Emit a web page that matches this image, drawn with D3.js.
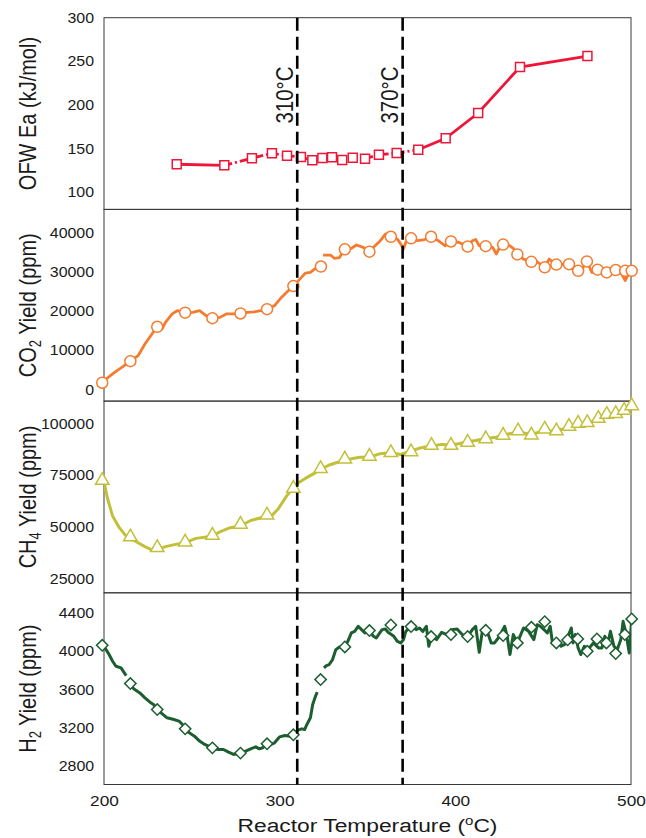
<!DOCTYPE html>
<html>
<head>
<meta charset="utf-8">
<script src="https://cdn.jsdelivr.net/npm/d3@7"></script>
<style>
  html, body { margin: 0; padding: 0; background: #fff; }
  svg { display: block; font-family: "Liberation Sans", Arial, sans-serif; }
</style>
</head>
<body>
<svg id="chart" width="646" height="838"></svg>
<script>
// ---------------- DATA ----------------
const xTicks = [200, 300, 400, 500];
const transitionTemps = [310, 370];
const transitionLabels = ["310\u00B0C", "370\u00B0C"];

// OFW activation energy (kJ/mol)
const ofwT  = [241.4, 268.5, 284.2, 295.6, 304.2, 312.1, 318.6, 324.3, 329.8, 335.6, 341.6, 348.6, 356.5, 366.6, 378.9, 394.5, 413.0, 436.8, 475.2];
const ofwEa = [131.8, 130.6, 138.7, 144.4, 141.6, 140.1, 136.4, 139.0, 139.8, 136.7, 139.3, 138.2, 142.8, 144.7, 148.5, 161.6, 190.6, 243.4, 256.0];
const ofwTicks = [100, 150, 200, 250, 300];

// CO2 yield (ppm) – continuous trace (null = gap) and markers
const co2LineT = [200.0, 205.8, 215.0, 219.4, 223.3, 227.2, 230.3, 233.0, 235.0, 238.8, 241.7, 246.2, 250.5, 254.4, 258.3, 261.7, 266.0, 269.9, 273.8, 277.7, 281.6, 285.4, 289.3, 292.8, 297.1, 301.0, 304.9, 307.8, 310.7, 314.6, 317.5, 320.4, 323.5, 324.1,
  324.7, 329.1, 331.1, 334.0, 337.1, 340.8, 343.7, 347.6, 351.1, 353.4, 357.3, 360.2, 363.3, 367.0, 368.9, 370.5, 371.8, 374.8, 378.6, 382.5, 386.2, 390.3, 394.2, 397.5, 401.9, 407.0, 409.7, 411.6, 413.6, 417.3, 421.3, 423.3, 425.2, 427.2, 431.1, 433.0, 435.3, 438.8, 443.3, 446.6, 450.9, 453.4, 457.5, 461.2, 464.7, 467.0, 469.9, 472.8, 475.0, 477.7, 481.0, 483.5, 486.2, 489.3, 491.3, 494.2, 496.7, 498.1, 500.4];
const co2LineV = [2200, 4300, 7150, 8600, 11600, 14100, 16000, 15400, 17100, 19300, 20100, 19600, 19700, 20100, 18800, 18200, 18400, 19300, 19300, 19400, 19700, 19800, 20100, 20500, 21400, 23500, 25200, 26400, 27800, 29700, 29900, 30900, 31400, null,
  34300, 34300, 33500, 33700, 35800, 36050, 36900, 36300, 35200, 36300, 38000, 39700, 39000, 38400, 37200, 35900, 37600, 38600, 38000, 38300, 39000, 38000, 36700, 37800, 37600, 36500, 38000, 38300, 36700, 36600, 36300, 34600, 36300, 37000, 36700, 36050, 34500, 33300, 32600, 32600, 31200, 33300, 31900, 32000, 32000, 30600, 30300, 31200, 32700, 29900, 30600, 30100, 29900, 29900, 30500, 29900, 27800, 29100, 30300];
const co2MarkT = [199.0, 215.0, 230.3, 246.2, 261.7, 277.7, 292.8, 307.8, 323.5, 337.1, 351.1, 363.3, 374.8, 386.2, 397.5, 407.0, 417.3, 427.2, 435.3, 443.3, 450.9, 457.5, 464.7, 469.9, 474.9, 481.0, 486.2, 491.3, 496.7, 500.4];
const co2MarkV = [1700, 7200, 16000, 19600, 18200, 19400, 20500, 26400, 31400, 35800, 35200, 39000, 38600, 39000, 37800, 36500, 36600, 37000, 34500, 32600, 31200, 31900, 32000, 30300, 32700, 30600, 29900, 30500, 30300, 30300];
const co2Ticks = [0, 10000, 20000, 30000, 40000];

// CH4 yield (ppm)
const ch4LineT = [200.0, 201.9, 204.9, 208.7, 212.6, 215.0, 219.4, 223.3, 227.2, 230.3, 235.0, 240.8, 246.2, 252.4, 258.3, 261.7, 266.0, 271.8, 277.7, 283.5, 289.3, 295.2, 299.0, 303.9, 307.8, 310.7, 314.6, 319.4, 323.3, 328.2, 334.0, 337.1, 341.7, 345.6, 351.1, 357.3, 363.3, 368.9, 374.8, 380.6, 386.4, 392.2, 397.5, 401.9, 407.0, 411.6, 417.3, 423.3, 427.2, 433.0, 438.8, 443.3, 448.5, 454.4, 460.2, 466.0, 471.8, 477.7, 483.5, 489.3, 495.1, 500.4];
const ch4LineV = [72200, 64100, 55200, 49600, 45500, 44400, 42300, 40400, 38800, 39100, 40400, 41500, 42300, 44400, 45100, 45500, 47600, 49600, 50400, 53100, 54400, 55200, 58500, 64900, 69000, 71400, 73500, 75800, 77900, 80000, 81600, 82200, 83200, 83800, 83800, 85500, 86000, 85100, 86800, 88400, 89200, 90000, 89700, 90300, 91300, 91900, 92900, 93500, 94400, 95600, 95600, 94800, 96100, 96500, 97300, 98400, 99700, 101000, 102900, 104200, 105700, 108100];
const ch4MarkT = [199.0, 215.0, 230.3, 246.2, 261.7, 277.7, 292.8, 307.8, 323.3, 337.1, 351.1, 363.3, 374.8, 386.4, 397.5, 407.0, 417.3, 427.2, 435.7, 443.3, 450.9, 457.5, 464.7, 469.9, 475.1, 481.4, 486.2, 491.3, 496.1, 500.4];
const ch4MarkV = [72500, 45100, 39900, 42600, 45900, 51200, 55700, 68700, 78200, 82900, 84200, 86000, 86400, 89500, 89500, 91000, 92700, 94400, 96500, 94500, 97400, 96500, 98700, 100200, 100500, 102600, 104500, 104900, 106500, 108700];
const ch4Ticks = [25000, 50000, 75000, 100000];

// H2 yield (ppm)
const h2LineT = [200.0, 202.9, 204.9, 206.8, 209.7, 212.6, 214.0,
  215.5, 217.5, 220.4, 223.3, 226.2, 228.2, 230.3, 233.0, 235.9, 239.8, 242.7, 244.7, 246.2, 248.5, 251.5, 254.4, 257.3, 261.7, 265.0, 268.0, 270.9, 273.8, 277.7, 280.6, 283.5, 286.4, 288.4, 290.3, 292.8, 295.1, 297.1, 300.0, 302.9, 305.8, 307.8, 310.3, 312.6, 314.2, 315.5, 317.5, 318.8, 320.4, 321.4, 323.0,
  325.2, 326.6, 328.2, 330.1, 332.0, 334.0, 337.1, 338.8, 340.8, 342.7, 344.7, 346.6, 348.5, 351.1, 353.4, 355.0, 356.3, 358.3, 360.2, 361.7, 365.0, 367.0, 368.9, 370.5, 371.8, 373.8, 375.7, 377.7, 379.6, 381.5, 383.5, 384.9, 386.4, 389.3, 392.2, 395.1, 398.1, 401.0, 403.9, 407.0, 409.7, 411.6, 413.6, 415.5, 417.5, 420.4, 422.3, 425.2, 428.1, 429.5, 431.1, 433.0, 435.3, 438.8, 441.7, 444.7, 446.6, 448.5, 450.5, 452.4, 454.0, 455.3, 458.2, 460.2, 462.1, 464.1, 466.0, 467.0, 468.3, 469.9, 471.4, 473.4, 475.7, 478.6, 481.5, 483.5, 485.1, 486.4, 488.3, 490.3, 492.2, 494.2, 495.5, 497.1, 499.0, 500.4];
const h2LineV = [4053, 3966, 3896, 3843, 3826, 3745, null,
  3633, 3598, 3563, 3511, 3465, 3441, 3388, 3346, 3301, 3283, 3266, 3231, 3185, 3143, 3108, 3056, 3021, 2985, 2968, 2968, 2940, 2916, 2930, 2951, 2975, 2996, 2975, 2986, 3028, 3021, 3038, 3101, 3115, 3108, 3122, 3171, 3185, 3178, 3231, 3301, 3440, 3528, 3570, null,
  3826, 3850, 3861, 3913, 4018, 4046, 4046, 4105, 4193, 4210, 4263, 4228, 4193, 4218, 4158, 4140, 4175, 4228, 4235, 4200, 4158, 4105, 4088, 4123, 4210, 4245, 4263, 4228, 4245, 4210, 4263, 4053, 4158, 4123, 4200, 4176, 4228, 4235, 4176, 4155, 4228, 4263, 3990, 4228, 4245, 4088, 4088, 4158, 4263, 4158, 3966, 4176, 4088, 4245, 4210, 4123, 4280, 4263, 4228, 4193, 4263, 4088, 4105, 4053, 4070, 4158, 4245, 4088, 4176, 4036, 3966, 4053, 4025, 4088, 4036, 4036, 4158, 4053, 4210, 4053, 4018, 4123, 4315, 4193, 3983, 4340];
const h2MarkT = [199.0, 215.0, 230.3, 246.2, 261.7, 277.7, 292.8, 307.8, 323.3, 337.1, 351.1, 363.3, 374.8, 386.2, 397.5, 407.0, 417.3, 427.2, 435.3, 443.3, 450.9, 457.5, 463.9, 469.7, 475.1, 480.6, 486.0, 491.3, 496.5, 500.4];
const h2MarkV = [4063, 3661, 3388, 3185, 2985, 2930, 3028, 3122, 3703, 4046, 4218, 4277, 4260, 4155, 4176, 4155, 4221, 4165, 4088, 4253, 4312, 4088, 4120, 4130, 4000, 4130, 4088, 3976, 4176, 4340];
const h2Ticks = [2800, 3200, 3600, 4000, 4400];

// ---------------- LAYOUT ----------------
const svg = d3.select("#chart");
const plotLeft = 104, plotRight = 631, plotTop = 17.7, plotBottom = 784.5;
const panelH = (plotBottom - plotTop) / 4;
const stretch = 1.2;   // the original figure's text is stretched horizontally
const x = d3.scaleLinear().domain([200, 500]).range([plotLeft, plotRight]);
const zip = (a, b) => a.map((t, i) => ({t: t, v: b[i]}));

const panels = [
  {label: [["OFW Ea (kJ/mol)", 0]], domain: [80, 300], ticks: ofwTicks, color: "#ee1638",
   line: zip(ofwT, ofwEa), marks: zip(ofwT, ofwEa), shape: "square", lw: 2.8},
  {label: [["CO", 0], ["2", 1], [" Yield (ppm)", 0]], domain: [-3000, 46000], ticks: co2Ticks, color: "#f47b2f",
   line: zip(co2LineT, co2LineV), marks: zip(co2MarkT, co2MarkV), shape: "circle", lw: 2.8},
  {label: [["CH", 0], ["4", 1], [" Yield (ppm)", 0]], domain: [18000, 111000], ticks: ch4Ticks, color: "#c2c03a",
   line: zip(ch4LineT, ch4LineV), marks: zip(ch4MarkT, ch4MarkV), shape: "triangle", lw: 3},
  {label: [["H", 0], ["2", 1], [" Yield (ppm)", 0]], domain: [2600, 4615], ticks: h2Ticks, color: "#1c5e30",
   line: zip(h2LineT, h2LineV), marks: zip(h2MarkT, h2MarkV), shape: "diamond", lw: 3}
];

const defs = svg.append("defs");

panels.forEach((p, i) => {
  const top = plotTop + i * panelH, bottom = top + panelH;
  const y = d3.scaleLinear().domain(p.domain).range([bottom, top]);
  const g = svg.append("g");

  defs.append("clipPath").attr("id", "clip" + i)
    .append("rect").attr("x", plotLeft).attr("y", top).attr("width", plotRight - plotLeft).attr("height", panelH);

  // frame
  g.append("rect").attr("x", plotLeft).attr("y", top)
    .attr("width", plotRight - plotLeft).attr("height", panelH)
    .attr("fill", "none").attr("stroke", "#3a3a3a").attr("stroke-width", 1);

  // y axis
  const ax = g.append("g").attr("transform", `translate(${plotLeft},0)`)
    .call(d3.axisLeft(y).tickValues(p.ticks).tickSize(0).tickPadding(9).tickFormat(d3.format("d")));
  ax.select(".domain").remove();
  ax.selectAll("text").attr("font-size", 14.5).attr("fill", "#1a1a1a")
    .attr("font-family", "'Liberation Sans', Arial, sans-serif")
    .attr("transform", "scale(1.1,1)");

  // y label
  const lab = g.append("text")
    .attr("transform", `translate(36,${(top + bottom) / 2}) rotate(-90) scale(1,${stretch})`)
    .attr("text-anchor", "middle").attr("font-size", 20).attr("fill", "#1a1a1a");
  let prevSub = 0;
  p.label.forEach(([txt, sub]) => {
    const ts = lab.append("tspan").text(txt);
    if (sub) { ts.attr("font-size", 13).attr("dy", 4.5); }
    else if (prevSub) { ts.attr("dy", -4.5); }
    prevSub = sub;
  });

  // line
  const lineGen = d3.line().defined(d => d.v !== null).x(d => x(d.t)).y(d => y(d.v));
  const lg = g.append("g").attr("clip-path", `url(#clip${i})`);
  if (i === 0) {
    // OFW: solid ends, dash-dot middle section
    const pts = p.line;
    lg.append("path").datum(pts.slice(0, 2)).attr("d", lineGen)
      .attr("fill", "none").attr("stroke", p.color).attr("stroke-width", p.lw);
    lg.append("path").datum(pts.slice(1, 15)).attr("d", lineGen)
      .attr("fill", "none").attr("stroke", p.color).attr("stroke-width", p.lw)
      .attr("stroke-dasharray", "8,3,2,3");
    lg.append("path").datum(pts.slice(14)).attr("d", lineGen)
      .attr("fill", "none").attr("stroke", p.color).attr("stroke-width", p.lw);
  } else {
    lg.append("path").datum(p.line).attr("d", lineGen)
      .attr("fill", "none").attr("stroke", p.color).attr("stroke-width", p.lw)
      .attr("stroke-linejoin", "round");
  }

  // markers
  const mg = g.append("g");
  let sym;
  if (p.shape === "square") sym = d3.symbol().type(d3.symbolSquare).size(80);
  else if (p.shape === "circle") sym = d3.symbol().type(d3.symbolCircle).size(95);
  else if (p.shape === "triangle") sym = d3.symbol().type(d3.symbolTriangle).size(78);
  else sym = d3.symbol().type(d3.symbolSquare).size(64);
  mg.selectAll("path").data(p.marks).join("path")
    .attr("d", sym)
    .attr("transform", d => `translate(${x(d.t)},${y(d.v)})` + (p.shape === "diamond" ? " rotate(45)" : ""))
    .attr("fill", "#fff").attr("stroke", p.color).attr("stroke-width", 1.5);
});

// x axis
const xa = svg.append("g").attr("transform", `translate(0,${plotBottom})`)
  .call(d3.axisBottom(x).tickValues(xTicks).tickSize(0).tickPadding(11).tickFormat(d3.format("d")));
xa.select(".domain").remove();
xa.selectAll("text").attr("font-size", 15).attr("fill", "#1a1a1a")
  .attr("font-family", "'Liberation Sans', Arial, sans-serif")
  .attr("transform", "scale(1.15,1)");

const xt = svg.append("text")
  .attr("transform", `translate(${(plotLeft + plotRight) / 2},832) scale(${stretch},1)`)
  .attr("text-anchor", "middle").attr("font-size", 19).attr("fill", "#1a1a1a");
xt.append("tspan").text("Reactor Temperature (");
xt.append("tspan").text("o").attr("font-size", 12.5).attr("dy", -7.5);
xt.append("tspan").text("C)").attr("dy", 7.5);

// transition lines
transitionTemps.forEach((t, i) => {
  svg.append("line").attr("x1", x(t)).attr("x2", x(t)).attr("y1", plotTop).attr("y2", plotBottom)
    .attr("stroke", "#000").attr("stroke-width", 2.6).attr("stroke-dasharray", "13,6");
  svg.append("text")
    .attr("transform", `translate(${x(t) - 4.5},95) rotate(-90) scale(1,${stretch})`)
    .attr("text-anchor", "middle").attr("font-size", 20.5).attr("fill", "#1a1a1a")
    .text(transitionLabels[i]);
});
</script>
</body>
</html>
